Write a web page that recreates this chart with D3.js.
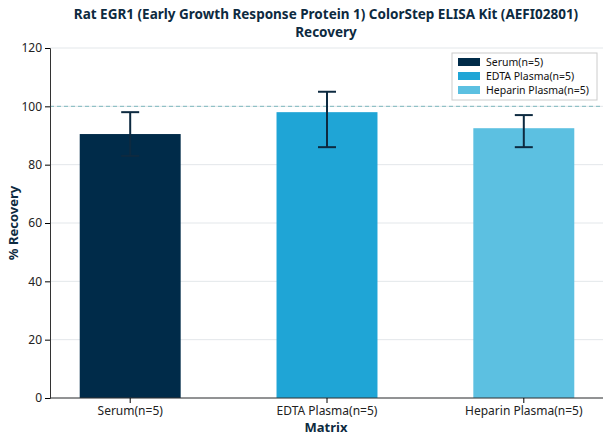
<!DOCTYPE html>
<html><head><meta charset="utf-8">
<script src="https://cdn.jsdelivr.net/npm/d3@7"></script>
<style>body{margin:0;background:#fff;font-family:"Noto Sans",sans-serif;}</style>
</head><body><svg id="c" width="608" height="444"></svg>
<script>
const categories = ["Serum(n=5)", "EDTA Plasma(n=5)", "Heparin Plasma(n=5)"];
const values = [90.5, 98, 92.5];
const errLow = [83, 86, 86];
const errHigh = [98, 105, 97];
const colors = ["#002b49", "#1fa5d6", "#5cc0e1"];
const yTicks = [0, 20, 40, 60, 80, 100, 120];

const svg = d3.select("#c");
const x = d3.scaleBand().domain(categories).range([31.5, 622.5]).paddingInner(0.487).paddingOuter(0.245);
const y = d3.scaleLinear().domain([0, 120]).range([398, 48]);
const left = 50, right = 603;

svg.append("g").selectAll("line").data(yTicks).join("line")
  .attr("x1", left).attr("x2", right).attr("y1", d => y(d)).attr("y2", d => y(d))
  .attr("stroke", "#e3e7ea").attr("stroke-width", 1);

svg.append("line").attr("x1", left).attr("x2", right).attr("y1", y(100)).attr("y2", y(100))
  .attr("stroke", "#7fb8bf").attr("stroke-dasharray", "4,3").attr("stroke-width", 1);

svg.append("g").selectAll("rect").data(categories).join("rect")
  .attr("x", d => x(d)).attr("width", x.bandwidth())
  .attr("y", (d, i) => y(values[i])).attr("height", (d, i) => y(0) - y(values[i]))
  .attr("fill", (d, i) => colors[i]);

const eg = svg.append("g").attr("stroke", "#0d2a40").attr("stroke-width", 2).attr("fill", "none");
categories.forEach((c, i) => {
  const cx = x(c) + x.bandwidth() / 2;
  eg.append("line").attr("x1", cx).attr("x2", cx).attr("y1", y(errLow[i])).attr("y2", y(errHigh[i]));
  [errLow[i], errHigh[i]].forEach(v => eg.append("line").attr("x1", cx - 9).attr("x2", cx + 9).attr("y1", y(v)).attr("y2", y(v)));
});

const ya = svg.append("g").attr("transform", `translate(${left},0)`)
  .call(d3.axisLeft(y).tickValues(yTicks).tickSize(5));
ya.select(".domain").attr("stroke", "#333");
ya.selectAll("text").attr("font-size", 12).attr("fill", "#222").attr("font-family", "Noto Sans");
const xa = svg.append("g").attr("transform", `translate(0,398)`)
  .call(d3.axisBottom(x).tickSize(5));
xa.select(".domain").attr("d", `M${left},0H${right}`).attr("stroke", "#333");
xa.selectAll("text").attr("font-size", 12).attr("fill", "#222").attr("font-family", "Noto Sans");

svg.append("text").attr("x", 326).attr("y", 19).attr("text-anchor", "middle").attr("font-weight", "bold")
  .attr("font-size", 13.5).attr("fill", "#0d2a40").text("Rat EGR1 (Early Growth Response Protein 1) ColorStep ELISA Kit (AEFI02801)");
svg.append("text").attr("x", 326).attr("y", 37).attr("text-anchor", "middle").attr("font-weight", "bold")
  .attr("font-size", 13.5).attr("fill", "#0d2a40").text("Recovery");
svg.append("text").attr("x", 326).attr("y", 432).attr("text-anchor", "middle").attr("font-weight", "bold")
  .attr("font-size", 13).attr("fill", "#0d2a40").text("Matrix");
svg.append("text").attr("transform", "translate(18,223) rotate(-90)").attr("text-anchor", "middle").attr("font-weight", "bold")
  .attr("font-size", 13).attr("fill", "#0d2a40").text("% Recovery");

const lg = svg.append("g").attr("transform", "translate(452,53)");
lg.append("rect").attr("width", 145).attr("height", 47).attr("fill", "#fff").attr("stroke", "#ccc");
categories.forEach((c, i) => {
  lg.append("rect").attr("x", 6).attr("y", 5 + i * 14).attr("width", 22).attr("height", 8).attr("fill", colors[i]);
  lg.append("text").attr("x", 34).attr("y", 13 + i * 14).attr("font-size", 10.5).attr("fill", "#111").text(c);
});
</script></body></html>
